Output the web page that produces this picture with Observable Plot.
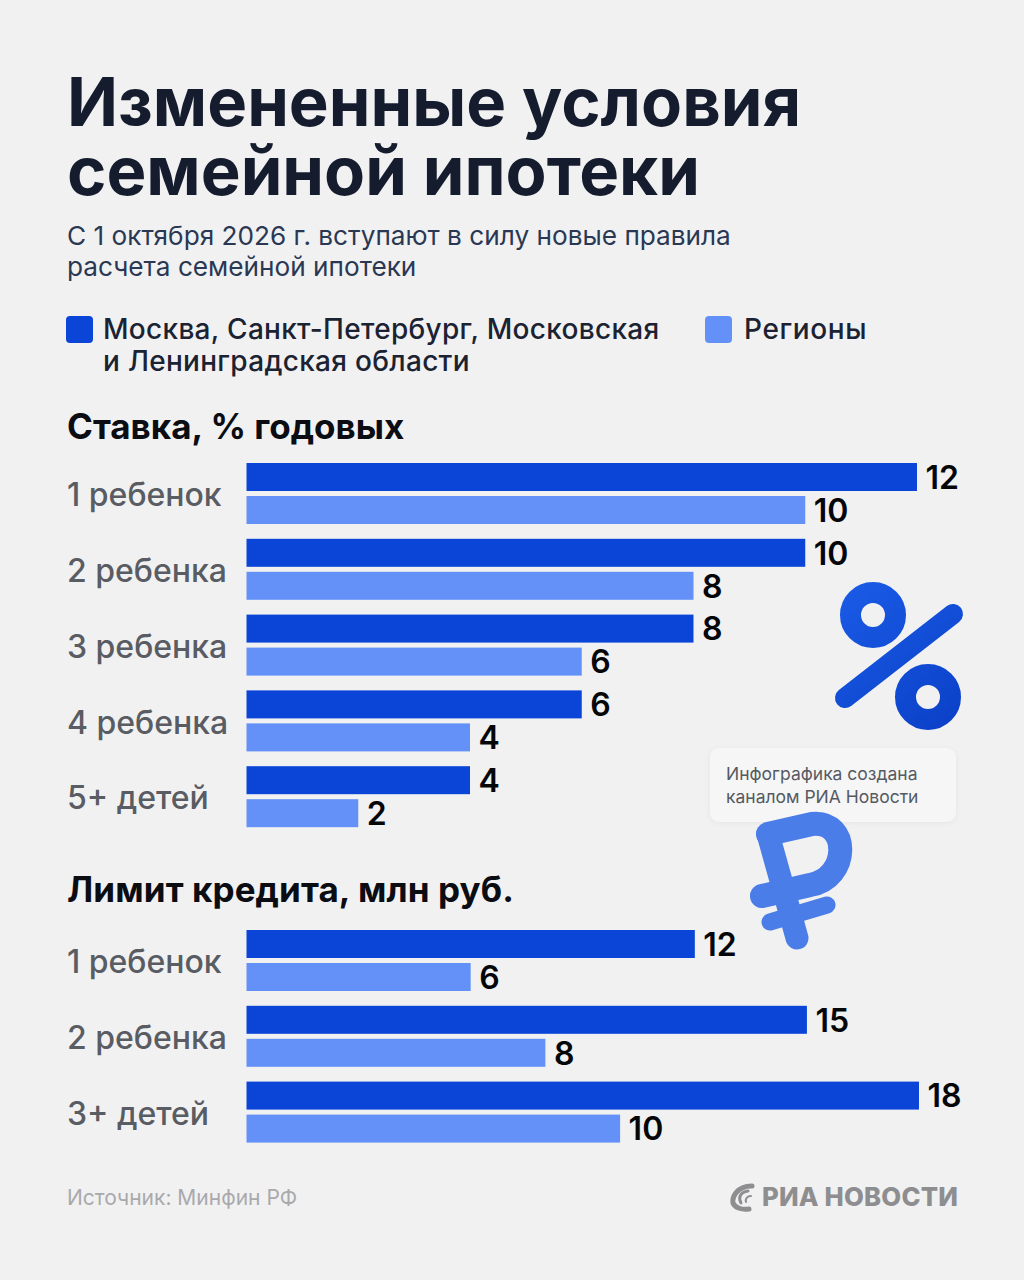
<!DOCTYPE html>
<html lang="ru"><head><meta charset="utf-8">
<script src="https://cdn.jsdelivr.net/npm/d3@7"></script>
<script src="https://cdn.jsdelivr.net/npm/@observablehq/plot@0.6"></script>
<style>
html,body{margin:0;padding:0;background:#f1f1f2;}
#page{position:relative;width:1024px;height:1280px;overflow:hidden;background:#f1f1f2;font-family:Inter,sans-serif;}
.t{position:absolute;white-space:nowrap;margin:0;}
#title{left:67px;top:67px;font-size:67px;line-height:69px;font-weight:700;color:#141c2e;}
#sub{left:67px;top:220px;font-size:26.2px;line-height:31px;color:#2a3853;}
.leg{font-size:28px;line-height:32px;color:#1b2333;font-weight:500;letter-spacing:.3px;}
.sw{position:absolute;width:27px;height:27px;border-radius:4px;top:316px;}
.h{font-size:35px;line-height:40px;font-weight:700;color:#0b0d12;left:67px;}
.chart{position:absolute;left:0;}
#card{position:absolute;left:710px;top:748px;width:246px;height:74px;background:#f6f6f7;border-radius:9px;box-shadow:0 1px 6px rgba(0,0,0,.05);}
#cardtext{left:726px;top:762px;font-size:17.5px;line-height:23px;color:#555a62;}
#src{left:67px;top:1186px;font-size:21px;line-height:24px;color:#a9a9ac;}
#ria{left:762px;top:1181px;font-size:25.7px;line-height:32px;font-weight:800;color:#8e8e90;letter-spacing:.2px;}
#deco{position:absolute;left:0;top:0;pointer-events:none;}
</style></head>
<body><div id="page">
<div class="t" id="title">Измененные условия<br>семейной ипотеки</div>
<div class="t" id="sub">С 1 октября 2026 г. вступают в силу новые правила<br>расчета семейной ипотеки</div>
<div class="sw" style="left:66px;background:#0a45d8"></div>
<div class="t leg" style="left:103px;top:313px">Москва, Санкт-Петербург, Московская<br>и Ленинградская области</div>
<div class="sw" style="left:705px;background:#6491f8"></div>
<div class="t leg" style="left:744px;top:313px;letter-spacing:.6px">Регионы</div>
<div class="t h" style="top:406px">Ставка, % годовых</div>
<div class="chart" id="c1" style="top:455px"></div>
<div class="t h" style="top:869px;letter-spacing:.1px">Лимит кредита, млн руб.</div>
<div class="chart" id="c2" style="top:922px"></div>
<div id="card"></div>
<div class="t" id="cardtext">Инфографика создана<br>каналом РИА Новости</div>
<div class="t" id="src">Источник: Минфин РФ</div>
<div class="t" id="ria">РИА НОВОСТИ</div>
<svg id="deco" width="1024" height="1280" aria-hidden="true">
  <defs>
    <linearGradient id="pg" gradientUnits="userSpaceOnUse" x1="840" y1="585" x2="960" y2="735">
      <stop offset="0" stop-color="#1a5be6"/><stop offset="1" stop-color="#0a3fc6"/>
    </linearGradient>
  </defs>
  <g fill="none" stroke="url(#pg)">
    <circle cx="873" cy="615" r="22.5" stroke-width="21"/>
    <circle cx="928" cy="697" r="22.5" stroke-width="21"/>
    <path d="M845 698 L953 614" stroke-width="20" stroke-linecap="round"/>
  </g>
  <g fill="none" stroke="#4a7de8" stroke-linecap="round" stroke-linejoin="round">
    <path d="M768 834 L812 824 C 850 820 850 878 810 885 L 762 896" stroke-width="24"/>
    <path d="M768 834 L797 938" stroke-width="23"/>
    <path d="M762 899 L796 891" stroke-width="17"/>
    <path d="M770 922 L827 905" stroke-width="17"/>
  </g>
  <g fill="none" stroke="#8e8e90" stroke-linecap="round">
    <path d="M752 1186 C 736 1186 732 1198 733 1203 C 735 1208 742 1210 749 1209" stroke-width="5"/>
    <path d="M748 1191 C 740 1192 738 1198 741 1203" stroke-width="3"/>
    <path d="M751 1196 C 747 1196 745 1199 746 1202" stroke-width="2"/>
  </g>
</svg>
</div>
<script>
const seriesNames = ["Москва, Санкт-Петербург, Московская и Ленинградская области", "Регионы"];
const seriesColors = ["#0a45d8", "#6491f8"];

const rateCategories = ["1 ребенок", "2 ребенка", "3 ребенка", "4 ребенка", "5+ детей"];
const rateCapitals = [12, 10, 8, 6, 4];
const rateRegions = [10, 8, 6, 4, 2];

const limitCategories = ["1 ребенок", "2 ребенка", "3+ детей"];
const limitCapitals = [12, 15, 18];
const limitRegions = [6, 8, 10];

function rows(cats, a, b) {
  return cats.flatMap((c, i) => [
    {category: c, series: seriesNames[0], value: a[i]},
    {category: c, series: seriesNames[1], value: b[i]}
  ]);
}
function chart(cats, a, b, xMax, xEnd) {
  const data = rows(cats, a, b);
  const step = 75.8, band = 61;
  return Plot.plot({
    width: 1024,
    height: 8 + cats.length * step - (step - band) + 14,
    marginTop: 8, marginBottom: 14, marginLeft: 246.5, marginRight: 1024 - xEnd,
    style: {background: "transparent", fontFamily: "Inter, sans-serif", overflow: "visible"},
    x: {domain: [0, xMax], axis: null},
    y: {domain: seriesNames, axis: null, paddingInner: 5 / 33, paddingOuter: 0, round: false},
    fy: {domain: cats, paddingInner: (step - band) / step, paddingOuter: 0, align: 0, label: null, round: false},
    color: {domain: seriesNames, range: seriesColors},
    marks: [
      Plot.axisFy({anchor: "left", tickSize: 0, tickPadding: 180, dy: 2, textAnchor: "start", label: null, fontSize: 32, fontWeight: 500, fill: "#595c62", lineAnchor: "middle"}),
      Plot.barX(data, {x: "value", y: "series", fy: "category", fill: "series"}),
      Plot.text(data, {x: "value", y: "series", fy: "category", text: d => String(d.value), textAnchor: "start", dx: 8, dy: 1, fontSize: 32, fontWeight: 600, fill: "#050608"})
    ]
  });
}
document.getElementById("c1").appendChild(chart(rateCategories, rateCapitals, rateRegions, 12, 917));
document.getElementById("c2").appendChild(chart(limitCategories, limitCapitals, limitRegions, 18, 919));
</script>
</body></html>
